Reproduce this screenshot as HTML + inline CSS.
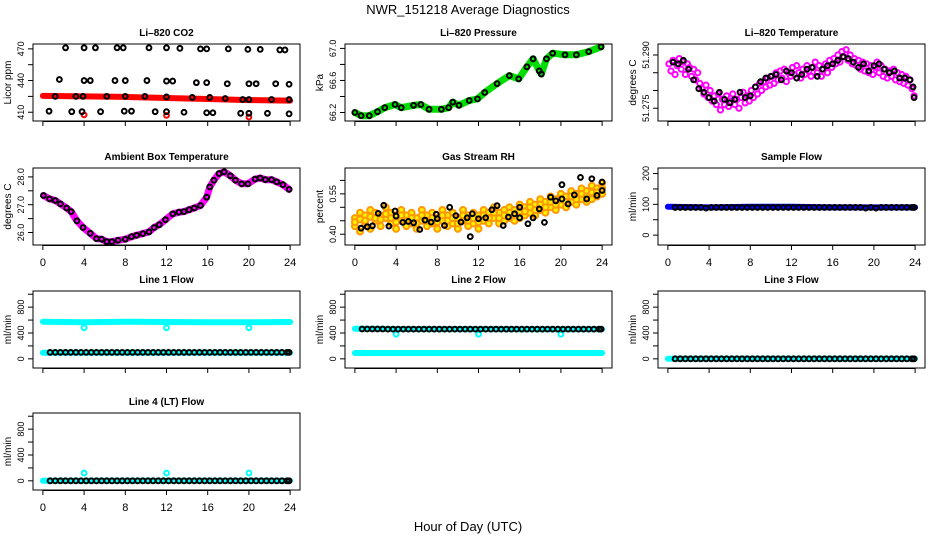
<!DOCTYPE html>
<html><head><meta charset="utf-8">
<style>
html,body{margin:0;padding:0;background:#fff;}
svg{display:block;font-family:"Liberation Sans",sans-serif;}
</style></head>
<body>
<svg id="c" width="936" height="540" viewBox="0 0 936 540">
<text x="468" y="14" text-anchor="middle" font-size="13">NWR_151218  Average Diagnostics</text>
<text x="468" y="531" text-anchor="middle" font-size="13">Hour of Day (UTC)</text>
</svg>
<script>
// ---------- data ----------
const xTicks = [0,4,8,12,16,20,24];
// CO2
const coHours = [2.2,4,5.1,7.2,7.8,10.3,12,13.3,15.3,15.9,18,19.9,21.1,23,23.5,
 1.6,4,4.6,7,8,10.1,12,12.6,14.9,15.9,17.9,20,20.7,22.6,23.9,
 1.2,3.2,3.9,6.2,8,9.9,12,14.5,16.2,17.7,19.4,20,22.2,23.9,
 0.6,2.8,3.8,5.6,7.9,8.6,10.9,12,13.7,15.9,16.5,19.2,20,21.8,23.9];
const coVals = [471,471,471,471,471,471,471,470.5,470,470,470,469.5,469.5,469,469,
 441,440,440,440,440,440,439.5,439.5,438,438,437,437,437,437,436.5,
 425,425,425,425,425,425,424.5,424,424,423,422,422,422,422,
 411,410.5,410.5,410.5,411,411,410.5,410.5,410,409.5,409.5,409,409,409,408.5];
const coRedHours = [0,4,8,12,16,20,24];
const coRedVals = [425.5,425,424.5,423.5,422.5,421.5,421];
const coRedOutHours = [4,12,20];
const coRedOutVals = [407.5,407,405.5];
// Pressure
const prHours = [0,0.6,1.4,2.2,2.9,3.9,4.5,5.7,6.4,7.2,8.4,9.1,9.5,10.1,11.1,11.9,12.6,13.8,15,15.9,16.7,17.3,17.9,18.1,18.6,19.2,20.4,21.5,22.7,23.9];
const prVals = [66.2,66.16,66.16,66.21,66.26,66.30,66.26,66.29,66.30,66.24,66.24,66.26,66.33,66.29,66.35,66.37,66.45,66.56,66.66,66.62,66.77,66.87,66.72,66.68,66.87,66.94,66.92,66.92,66.96,67.02];
// Li-820 temperature
const ltMagHours = [0.1,0.3,0.5,0.7,0.9,1.1,1.3,1.5,1.7,1.9,2.1,2.3,2.5,2.7,2.9,3.1,3.3,3.5,3.7,3.9,4.1,4.3,4.5,4.7,4.9,5.1,5.3,5.5,5.7,5.9,6.1,6.3,6.5,6.7,6.9,7.1,7.3,7.5,7.7,7.9,8.1,8.3,8.5,8.7,8.9,9.1,9.3,9.5,9.7,9.9,10.1,10.3,10.5,10.7,10.9,11.1,11.3,11.5,11.7,11.9,12.1,12.3,12.5,12.7,12.9,13.1,13.3,13.5,13.7,13.9,14.1,14.3,14.5,14.7,14.9,15.1,15.3,15.5,15.7,15.9,16.1,16.3,16.5,16.7,16.9,17.1,17.3,17.5,17.7,17.9,18.1,18.3,18.5,18.7,18.9,19.1,19.3,19.5,19.7,19.9,20.1,20.3,20.5,20.7,20.9,21.1,21.3,21.5,21.7,21.9,22.1,22.3,22.5,22.7,22.9,23.1,23.3,23.5,23.7,23.9];
const ltMagVals = [51.2875,51.2855,51.2885,51.2845,51.2870,51.2890,51.2860,51.2880,51.2845,51.2875,51.2865,51.2840,51.2860,51.2830,51.2850,51.2820,51.2805,51.2790,51.2815,51.2780,51.2800,51.2770,51.2785,51.2760,51.2790,51.2745,51.2775,51.2760,51.2785,51.2755,51.2770,51.2790,51.2760,51.2775,51.2750,51.2780,51.2795,51.2765,51.2785,51.2770,51.2800,51.2780,51.2810,51.2790,51.2820,51.2800,51.2825,51.2810,51.2835,51.2815,51.2840,51.2820,51.2850,51.2830,51.2855,51.2835,51.2860,51.2825,51.2850,51.2840,51.2865,51.2845,51.2870,51.2850,51.2835,51.2860,51.2845,51.2870,51.2855,51.2840,51.2865,51.2880,51.2850,51.2870,51.2840,51.2860,51.2875,51.2850,51.2885,51.2865,51.2890,51.2875,51.2900,51.2880,51.2910,51.2895,51.2915,51.2885,51.2900,51.2875,51.2890,51.2870,51.2885,51.2860,51.2880,51.2855,51.2875,51.2850,51.2870,51.2845,51.2865,51.2880,51.2850,51.2870,51.2840,51.2860,51.2835,51.2855,51.2840,51.2860,51.2830,51.2850,51.2825,51.2845,51.2820,51.2840,51.2815,51.2830,51.2805,51.2785];
const ltBlkHours = [0.5,1,1.5,2,2.5,3,3.5,4,4.5,5,5.5,6,6.5,7,7.5,8,8.5,9,9.5,10,10.5,11,11.5,12,12.5,13,13.5,14,14.5,15,15.5,16,16.5,17,17.5,18,18.5,19,19.5,20,20.5,21,21.5,22,22.5,23,23.5,23.8,23.9];
const ltBlkVals = [51.288,51.2875,51.2885,51.286,51.283,51.2805,51.2795,51.278,51.277,51.2795,51.2775,51.2765,51.2775,51.2795,51.278,51.2785,51.281,51.2825,51.2835,51.2840,51.2845,51.2830,51.2855,51.2850,51.2835,51.2845,51.2860,51.2865,51.2840,51.2860,51.2870,51.2875,51.2885,51.2895,51.2890,51.2880,51.2865,51.2875,51.2855,51.2870,51.2875,51.2860,51.2850,51.2855,51.2835,51.2835,51.2830,51.2810,51.2780];
// Ambient box temperature
const abHours = [0.06,0.65,1.2,1.7,2.3,2.75,3.3,3.9,4.6,5.2,5.7,6.2,6.7,7.3,8.0,8.6,9.1,9.7,10.3,10.8,11.3,11.9,12.6,13.2,13.7,14.2,14.7,15.3,15.9,16.2,16.6,17.1,17.6,18.2,18.7,19.3,19.9,20.6,21.1,21.6,22.2,22.7,23.3,23.9];
const abVals = [27.33,27.21,27.15,27.03,26.88,26.75,26.42,26.18,25.97,25.78,25.76,25.67,25.67,25.72,25.76,25.85,25.9,25.96,26.02,26.18,26.28,26.46,26.67,26.73,26.75,26.82,26.88,26.97,27.27,27.64,27.88,28.12,28.18,28.04,27.88,27.75,27.75,27.92,27.96,27.9,27.9,27.82,27.72,27.55];
// Gas stream RH
const rhOrHours = [0,0.5,1,1.5,2,2.5,3,3.5,4,4.5,5,5.5,6,6.5,7,7.5,8,8.5,9,9.5,10,10.5,11,11.5,12,12.5,13,13.5,14,14.5,15,15.5,16,16.5,17,17.5,18,18.5,19,19.5,20,20.5,21,21.5,22,22.5,23,23.5,24];
const rhOrLo = [0.43,0.41,0.44,0.42,0.45,0.43,0.46,0.44,0.42,0.45,0.43,0.44,0.42,0.45,0.43,0.44,0.42,0.45,0.43,0.44,0.42,0.45,0.43,0.44,0.42,0.45,0.44,0.46,0.44,0.45,0.46,0.45,0.46,0.47,0.48,0.47,0.49,0.48,0.50,0.49,0.51,0.50,0.52,0.51,0.53,0.52,0.53,0.54,0.55];
const rhOrMid = [0.445,0.455,0.45,0.465,0.46,0.455,0.475,0.46,0.445,0.47,0.45,0.46,0.44,0.47,0.45,0.46,0.445,0.47,0.45,0.46,0.44,0.47,0.45,0.46,0.445,0.47,0.46,0.48,0.46,0.47,0.48,0.47,0.485,0.485,0.50,0.49,0.51,0.50,0.52,0.51,0.53,0.52,0.54,0.53,0.55,0.54,0.555,0.555,0.57];
const rhOrHi = [0.46,0.48,0.47,0.49,0.48,0.47,0.50,0.48,0.47,0.49,0.47,0.48,0.46,0.49,0.47,0.48,0.46,0.49,0.47,0.48,0.46,0.49,0.47,0.48,0.47,0.49,0.48,0.50,0.48,0.49,0.50,0.49,0.51,0.50,0.52,0.51,0.53,0.52,0.54,0.53,0.55,0.54,0.56,0.55,0.57,0.56,0.58,0.57,0.59];
const rhBlkHours = [0.6,1.2,1.7,2.26,2.8,3.3,3.9,4.0,4.65,5.2,5.7,6.3,6.8,7.4,7.9,8.0,8.7,9.2,9.8,10.3,10.9,11.4,12,11.2,12.7,13.3,13.8,14.4,14.9,15.5,16.0,16.0,16.8,17.3,17.9,18.4,19.0,19.5,20.1,20.1,20.7,21.3,21.9,22.5,23.0,23.5,24,24];
const rhBlkVals = [0.4225,0.4275,0.431,0.4775,0.5075,0.43,0.486,0.4675,0.444,0.4475,0.4425,0.4175,0.4525,0.445,0.474,0.4575,0.4325,0.50,0.469,0.445,0.461,0.476,0.4575,0.391,0.461,0.491,0.506,0.4325,0.464,0.476,0.461,0.50,0.439,0.461,0.494,0.444,0.5375,0.524,0.584,0.531,0.5125,0.546,0.611,0.531,0.606,0.544,0.594,0.5625];
// flows
const flHours = [0.7,1.2,1.7,2.2,2.7,3.2,3.7,4.2,4.7,5.2,5.7,6.2,6.7,7.2,7.7,8.2,8.7,9.2,9.7,10.2,10.7,11.2,11.7,12.2,12.7,13.2,13.7,14.2,14.7,15.2,15.7,16.2,16.7,17.2,17.7,18.2,18.7,19.2,19.7,20.2,20.7,21.2,21.7,22.2,22.7,23.2,23.7,23.9];
const sampleBlk = [90,90,90,90,90,90,88,90,90,90,90,90,90,90,90,90,90,90,90,90,90,90,90,90,90,90,90,90,90,90,90,90,90,90,90,90,90,88,90,88,90,90,90,90,90,90,90,90];
const line1Blk = [100,100,100,100,100,100,100,100,100,100,100,100,100,100,100,100,100,100,100,100,100,100,100,100,100,100,100,100,100,100,100,100,100,100,100,100,100,100,100,100,100,100,100,100,100,100,100,100];
const line2Blk = [462,462,462,462,462,460,460,460,460,460,460,460,460,460,460,460,460,460,460,460,460,460,460,460,460,460,460,460,460,460,460,460,460,460,460,460,460,460,460,460,460,460,460,460,460,460,460,460];
const line3Blk = [0,0,0,0,0,0,0,0,0,0,0,0,0,0,0,0,0,0,0,0,0,0,0,0,0,0,0,0,0,0,0,0,0,0,0,0,0,0,0,0,0,0,0,0,0,0,0,0];
const line4Blk = [0,0,0,0,0,0,0,0,0,0,0,0,0,0,0,0,0,0,0,0,0,0,0,0,0,0,0,0,0,0,0,0,0,0,0,0,0,0,0,0,0,0,0,0,0,0,0,0];
const bandHours = [0,4,8,12,16,20,24];
const sampleBand = [92,90,92,92,90,90,90];
const line1BandHi = [575,565,575,570,565,565,570];
const line1BandLo = [95,95,95,95,95,95,95];
const line2BandHi = [465,462,460,460,458,458,460];
const line2BandLo = [90,90,90,90,90,90,90];
const line3Band = [0,0,0,0,0,0,0];
const line4Band = [0,0,0,0,0,0,0];
const outHours = [4,12,20];
const line1Out = [480,480,480];
const line2Out = [380,380,380];
const line4Out = [120,120,120];

// ---------- drawing ----------
const svg = document.getElementById('c');
const NS = 'http://www.w3.org/2000/svg';
function mk(tag, attrs, parent){
  const e = document.createElementNS(NS, tag);
  for (const k in attrs) e.setAttribute(k, attrs[k]);
  (parent||svg).appendChild(e);
  return e;
}
const colX = [33,345,658], rowY = [44,168,291,413], PW = 267, PH = 77;
const XMIN = -0.96, XMAX = 24.96;

function panel(name, col, row, title, ylab, ymin, ymax, yt, ylbl, showX){
  const g = mk('g', {});
  
  
  const x0 = colX[col], y0 = rowY[row];
  const sx = h => x0 + (h - XMIN) / (XMAX - XMIN) * PW;
  const sy = v => y0 + PH - (v - ymin) / (ymax - ymin) * PH;
  const t = mk('text', {x: x0 + PW/2, y: y0 - 8, 'text-anchor':'middle', 'font-size':10, 'font-weight':'bold'}, g);
  t.textContent = title;
  
  
  const xa = mk('g', {}, g);
  
  
  mk('line', {x1: sx(xTicks[0]), x2: sx(xTicks[xTicks.length-1]), y1: y0+PH+0.5, y2: y0+PH+0.5, stroke:'#000'}, xa);
  xTicks.forEach(v => {
    mk('line', {x1: sx(v), x2: sx(v), y1: y0+PH, y2: y0+PH+5, stroke:'#000'}, xa);
    if (showX) {
      const l = mk('text', {x: sx(v), y: y0+PH+21, 'text-anchor':'middle', 'font-size':11}, xa);
      l.textContent = v;
      
      
    }
  });
  const ya = mk('g', {}, g);
  
  
  mk('line', {x1: x0, x2: x0, y1: sy(yt[0]), y2: sy(yt[yt.length-1]), stroke:'#000'}, ya);
  yt.forEach((v, i) => {
    mk('line', {x1: x0-5, x2: x0, y1: sy(v), y2: sy(v), stroke:'#000'}, ya);
    if (ylbl[i]) {
      const l = mk('text', {x: 0, y: 0, 'text-anchor':'middle', 'font-size':9,
        transform: `translate(${x0-9},${sy(v)}) rotate(-90)`}, ya);
      l.textContent = ylbl[i];
      
      
    }
  });
  const yl = mk('text', {x:0, y:0, 'text-anchor':'middle', 'font-size':10,
    transform: `translate(${x0-22},${y0+PH/2}) rotate(-90)`}, g);
  yl.textContent = ylab;
  
  
  const clipId = 'clip' + col + row;
  const cp = mk('clipPath', {id: clipId}, g);
  mk('rect', {x: x0, y: y0, width: PW, height: PH}, cp);
  const plot = mk('g', {'clip-path': `url(#${clipId})`}, g);
  
  
  const box = mk('rect', {x: x0, y: y0, width: PW, height: PH, fill:'none', stroke:'#000'}, g);
  
  
  return {sx, sy, plot};
}
function pts(p, hs, vs, stroke, name, r, sw, fill){
  hs.forEach((h, i) => {
    const c = mk('circle', {cx: p.sx(h), cy: p.sy(vs[i]), r: r||2.4, fill: fill||'none', stroke, 'stroke-width': sw||2}, p.plot);
    
    
  });
}
function band(p, hs, vs, color, w, name){
  const d = hs.map((h, i) => (i ? 'L' : 'M') + p.sx(h).toFixed(1) + ',' + p.sy(vs[i]).toFixed(1)).join('');
  const e = mk('path', {d, fill:'none', stroke: color, 'stroke-width': w, 'stroke-linecap':'round', 'stroke-linejoin':'round'}, p.plot);
  
  
}
const flowT = [0,200,400,600,800,1000], flowL = ['0','','400','','800',''];

let p = panel('panel-co2', 0, 0, 'Li\u2013820 CO2', 'Licor ppm', 401.7, 474.6, [410,425,440,455,470], ['410','','440','','470'], false);
band(p, coRedHours, coRedVals, '#ff0000', 6, 'co2-red-band');
pts(p, coRedOutHours, coRedOutVals, '#ff0000', 'co2-red-point');
pts(p, coHours, coVals, '#000', 'co2-point');

p = panel('panel-pressure', 1, 0, 'Li\u2013820 Pressure', 'kPa', 66.094, 67.055, [66.2,66.4,66.6,66.8,67.0], ['66.2','','66.6','','67.0'], false);
band(p, prHours, prVals, '#00dd00', 7, 'pressure-green-band');
pts(p, prHours, prVals, '#000', 'pressure-point');

p = panel('panel-li-temperature', 2, 0, 'Li\u2013820 Temperature', 'degrees C', 51.2714, 51.2931, [51.275,51.280,51.285,51.290], ['51.275','','','51.290'], false);
pts(p, ltMagHours, ltMagVals, '#ff00ff', 'li-temp-magenta-point', 2.6, 2);
pts(p, ltBlkHours, ltBlkVals, '#000', 'li-temp-point');

p = panel('panel-ambient-temperature', 0, 1, 'Ambient Box Temperature', 'degrees C', 25.55, 28.32, [26,26.5,27,27.5,28], ['26.0','','27.0','','28.0'], true);
band(p, abHours, abVals, '#ff00ff', 7, 'ambient-magenta-band');
pts(p, abHours, abVals, '#000', 'ambient-point');

p = panel('panel-gas-rh', 1, 1, 'Gas Stream RH', 'percent', 0.36, 0.646, [0.40,0.45,0.50,0.55,0.60], ['0.40','','','0.55',''], true);
pts(p, rhOrHours, rhOrLo, '#ff9900', 'rh-orange-point', 3, 2, '#ffee00');
pts(p, rhOrHours, rhOrHi, '#ff9900', 'rh-orange-point', 3, 2, '#ffee00');
pts(p, rhOrHours, rhOrMid, '#ff9900', 'rh-orange-point', 3, 2, '#ffee00');
pts(p, rhBlkHours, rhBlkVals, '#000', 'rh-point');

p = panel('panel-sample-flow', 2, 1, 'Sample Flow', 'ml/min', -32, 218, [0,50,100,150,200], ['0','','100','','200'], true);
band(p, bandHours, sampleBand, '#0000ff', 6, 'sample-blue-band');
pts(p, flHours, sampleBlk, '#000', 'sample-point');

p = panel('panel-line1-flow', 0, 2, 'Line 1 Flow', 'ml/min', -142, 1050, flowT, flowL, false);
band(p, bandHours, line1BandHi, '#00ffff', 6, 'line1-cyan-band');
band(p, bandHours, line1BandLo, '#00ffff', 6, 'line1-cyan-band');
pts(p, outHours, line1Out, '#00ffff', 'line1-outlier');
pts(p, flHours, line1Blk, '#000', 'line1-point');

p = panel('panel-line2-flow', 1, 2, 'Line 2 Flow', 'ml/min', -142, 1050, flowT, flowL, false);
band(p, bandHours, line2BandHi, '#00ffff', 6, 'line2-cyan-band');
band(p, bandHours, line2BandLo, '#00ffff', 6, 'line2-cyan-band');
pts(p, outHours, line2Out, '#00ffff', 'line2-outlier');
pts(p, flHours, line2Blk, '#000', 'line2-point');

p = panel('panel-line3-flow', 2, 2, 'Line 3 Flow', 'ml/min', -142, 1050, flowT, flowL, false);
band(p, bandHours, line3Band, '#00ffff', 6, 'line3-cyan-band');
pts(p, flHours, line3Blk, '#000', 'line3-point');

p = panel('panel-line4-flow', 0, 3, 'Line 4 (LT) Flow', 'ml/min', -142, 1050, flowT, flowL, true);
band(p, bandHours, line4Band, '#00ffff', 6, 'line4-cyan-band');
pts(p, outHours, line4Out, '#00ffff', 'line4-outlier');
pts(p, flHours, line4Blk, '#000', 'line4-point');
</script>
</body></html>
